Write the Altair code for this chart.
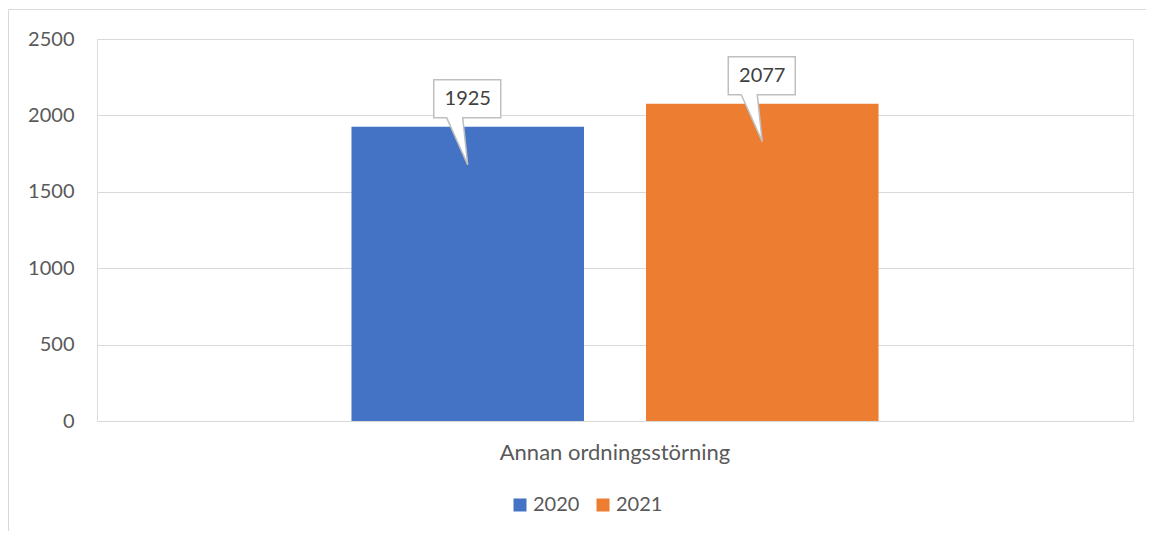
import altair as alt
import pandas as pd

categories = ["Annan ordningsstörning"]
years = ["2020", "2021"]
values = [1925, 2077]
colors = ["#4472C4", "#ED7D31"]

df = pd.DataFrame({
    "kategori": [categories[0]] * len(years),
    "år": years,
    "antal": values,
})

FONT = "Lato"
W, H = 1036, 382

x = alt.X("kategori:N", title=None,
          scale=alt.Scale(paddingInner=0, paddingOuter=0),
          axis=alt.Axis(labelAngle=0, ticks=False, domain=False, labelFont=FONT,
                        labelFontSize=22, labelColor="#595959", labelPadding=21,
                        labelLimit=0))
xo = alt.XOffset("år:N", scale=alt.Scale(paddingInner=0.2105, paddingOuter=0.864))
y = alt.Y("antal:Q", title=None,
          scale=alt.Scale(domain=[0, 2500], nice=False),
          axis=alt.Axis(values=[0, 500, 1000, 1500, 2000, 2500], format="d",
                        ticks=False, domain=False,
                        labelFont=FONT, labelFontSize=20, labelColor="#595959",
                        labelPadding=23, gridColor="#d9d9d9", gridWidth=1))

bars = alt.Chart(df).mark_bar().encode(
    x=x, xOffset=xo, y=y,
    color=alt.Color("år:N", title=None,
                    scale=alt.Scale(domain=years, range=colors),
                    legend=alt.Legend(orient="none", legendX=413, legendY=456,
                                      direction="horizontal", symbolType="square",
                                      symbolSize=169, symbolStrokeWidth=0,
                                      labelFont=FONT, labelFontSize=20,
                                      labelColor="#595959", labelOffset=3,
                                      columnPadding=13)),
)

callout_path = ("M -0.68 -0.94 L 0.66 -0.94 L 0.66 -0.18 L -0.1 -0.18 "
                "L 0 0.76 L -0.42 -0.18 L -0.68 -0.18 Z")

callouts = alt.Chart(df).mark_point(
    shape=callout_path, size=2500 * 4, filled=True, fill="white",
    stroke="#bfbfbf", strokeWidth=1.5, opacity=1
).encode(x=x, xOffset=xo, y=y)

labels = alt.Chart(df).mark_text(
    dy=-28, font=FONT, fontSize=20, color="#404040", baseline="middle"
).encode(x=x, xOffset=xo, y=y, text=alt.Text("antal:Q", format="d"))

border_df = pd.DataFrame({"b": [0]})
border = alt.Chart(border_df).mark_rect(
    fillOpacity=0, stroke="#d9d9d9", strokeWidth=1
).encode(x=alt.value(-88.5), x2=alt.value(W + 200),
         y=alt.value(-29.5), y2=alt.value(H + 300))

chart = alt.layer(border, bars, callouts, labels).properties(
    width=W, height=H,
    autosize=alt.AutoSizeParams(type="none"),
    padding={"left": 89, "top": 31, "right": 13, "bottom": 110},
).configure_view(stroke=None).configure(background="white")

chart.save("out.html", embed_options={"renderer": "svg", "actions": False})
